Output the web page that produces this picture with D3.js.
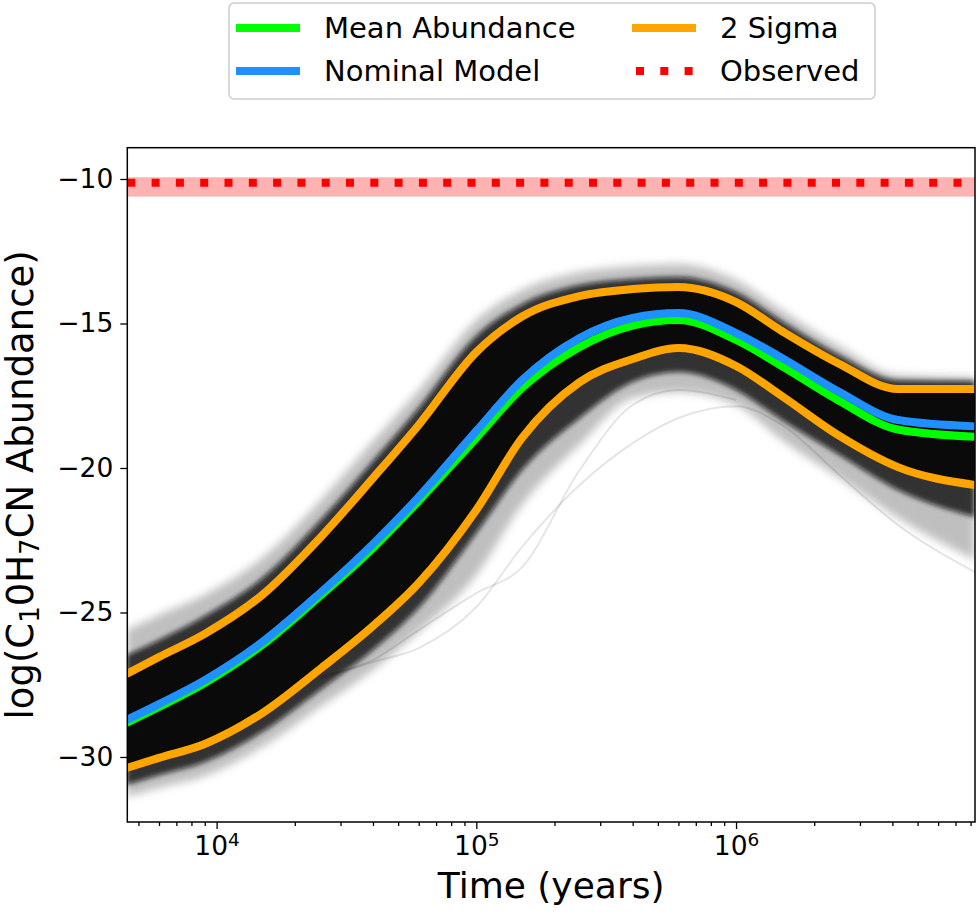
<!DOCTYPE html>
<html>
<head>
<meta charset="utf-8">
<script src="https://cdn.jsdelivr.net/npm/d3@7"></script>
<style>
  body { margin: 0; background: #fff; }
  svg { display: block; font-family: "DejaVu Sans", sans-serif; }
</style>
</head>
<body>
<svg id="chart" width="980" height="918"></svg>
<script>
// ***** data *****
const times = [4500, 6000, 9000, 15000, 25000, 40000, 60000, 1e5, 1.5e5, 2.5e5, 4e5, 6e5, 1e6, 1.5e6, 2.5e6, 4.2e6, 8.3e6];

const meanAbundance = [-28.82, -28.27, -27.44, -26.12, -24.43, -22.77, -21.14, -18.96, -17.23, -15.81, -15.07, -14.88, -15.57, -16.47, -17.68, -18.67, -18.92];
const nominalModel = [-28.72, -28.17, -27.34, -26.02, -24.33, -22.63, -21.00, -18.72, -16.96, -15.50, -14.81, -14.64, -15.33, -16.19, -17.37, -18.34, -18.56];
const sigmaUpper = [-27.13, -26.54, -25.74, -24.39, -22.42, -20.35, -18.51, -15.99, -14.76, -14.05, -13.81, -13.74, -14.26, -15.26, -16.40, -17.27, -17.27];
const sigmaLower = [-30.38, -30.03, -29.55, -28.48, -26.96, -25.47, -23.98, -21.45, -18.96, -17.03, -16.23, -15.85, -16.47, -17.51, -18.89, -19.97, -20.59];

// spread of the individual model runs (dense part and faint fringe)
const runsDenseTop = [-26.47, -25.95, -25.12, -23.81, -21.83, -19.76, -17.92, -15.43, -14.33, -13.67, -13.46, -13.39, -13.91, -14.91, -16.09, -16.96, -16.99];
const runsDenseBottom = [-30.97, -30.62, -30.17, -29.13, -27.68, -26.30, -24.84, -22.25, -20.07, -18.27, -17.02, -16.68, -17.30, -18.34, -19.55, -20.76, -21.70];
const runsFaintTop = [-25.61, -25.09, -24.39, -23.11, -21.14, -19.07, -17.30, -14.88, -13.84, -13.22, -13.01, -12.94, -13.49, -14.53, -15.78, -16.78, -16.85];
const runsFaintBottom = [-31.38, -31.07, -30.66, -29.65, -28.27, -26.99, -25.67, -23.70, -21.28, -19.20, -17.58, -17.37, -17.82, -19.03, -20.35, -21.73, -23.18];

// two stray runs that leave the band
const strayTimesA = [25000, 40000, 60000, 1e5, 1.5e5, 2.5e5, 4e5, 6e5, 1e6, 1.5e6, 2.5e6, 4.2e6, 8.3e6];
const strayRunA = [-27.30, -26.71, -26.23, -24.81, -22.73, -20.59, -19.14, -18.27, -17.86, -18.51, -20.24, -21.97, -23.60];
const strayTimesB = [25000, 40000, 60000, 1e5, 1.5e5, 2.5e5, 4e5, 6e5, 1e6];
const strayRunB = [-27.20, -26.64, -25.61, -24.33, -23.43, -20.07, -17.82, -17.30, -17.65];

const observedValue = -10.13;
const observedRange = [-10.61, -9.94];

const yTicks = [-10, -15, -20, -25, -30];
const xMajorTicks = [1e4, 1e5, 1e6];

const legendItems = [
  { label: "Mean Abundance", color: "#00ff00", dotted: false },
  { label: "Nominal Model", color: "#1e90ff", dotted: false },
  { label: "2 Sigma", color: "#ffa500", dotted: false },
  { label: "Observed", color: "#ff0000", dotted: true }
];

// ***** layout *****
const margin = { left: 127.3, right: 975, top: 147.7, bottom: 822 };
const svg = d3.select("#chart");

const x = d3.scaleLog().domain([4530, 8.32e6]).range([margin.left, margin.right]);
const y = d3.scaleLinear().domain([-32.25, -8.917]).range([margin.bottom, margin.top]);

const defs = svg.append("defs");
defs.append("clipPath").attr("id", "plotClip")
  .append("rect")
  .attr("x", margin.left).attr("y", margin.top)
  .attr("width", margin.right - margin.left)
  .attr("height", margin.bottom - margin.top);
// soft edges for the cloud of runs
defs.append("filter").attr("id", "softWide")
  .attr("x", "-5%").attr("y", "-5%").attr("width", "110%").attr("height", "110%")
  .append("feGaussianBlur").attr("stdDeviation", 4);
defs.append("filter").attr("id", "softNarrow")
  .attr("x", "-5%").attr("y", "-5%").attr("width", "110%").attr("height", "110%")
  .append("feGaussianBlur").attr("stdDeviation", 2.5);

const plot = svg.append("g").attr("clip-path", "url(#plotClip)");

function band(lo, hi, ts) {
  return d3.area()
    .x((d, i) => x(ts[i]))
    .y0((d, i) => y(lo[i]))
    .y1((d, i) => y(hi[i]))
    .curve(d3.curveMonotoneX)(ts);
}
function line(vals, ts) {
  return d3.line()
    .x((d, i) => x(ts[i]))
    .y(d => y(d))
    .curve(d3.curveMonotoneX)(vals);
}

// model runs: faint fringe, dense part, solid core
plot.append("path").attr("d", band(runsFaintBottom, runsFaintTop, times))
  .attr("fill", "rgba(0,0,0,0.25)").attr("filter", "url(#softWide)");
plot.append("path").attr("d", band(runsDenseBottom, runsDenseTop, times))
  .attr("fill", "rgba(10,10,10,0.8)").attr("filter", "url(#softNarrow)");
plot.append("path").attr("d", band(sigmaLower, sigmaUpper, times))
  .attr("fill", "#0a0a0a");

[[strayRunA, strayTimesA], [strayRunB, strayTimesB]].forEach(([run, ts]) => {
  plot.append("path").attr("d", line(run, ts))
    .attr("fill", "none").attr("stroke", "rgba(0,0,0,0.1)").attr("stroke-width", 2);
});

// summary curves
plot.append("path").attr("d", line(meanAbundance, times))
  .attr("fill", "none").attr("stroke", "#00ff00").attr("stroke-width", 8);
plot.append("path").attr("d", line(nominalModel, times))
  .attr("fill", "none").attr("stroke", "#1e90ff").attr("stroke-width", 8);
[sigmaUpper, sigmaLower].forEach(s => {
  plot.append("path").attr("d", line(s, times))
    .attr("fill", "none").attr("stroke", "#ffa500").attr("stroke-width", 8);
});

// observed value and its range
plot.append("rect")
  .attr("x", margin.left).attr("width", margin.right - margin.left)
  .attr("y", y(observedRange[1]))
  .attr("height", y(observedRange[0]) - y(observedRange[1]))
  .attr("fill", "rgba(255,0,0,0.3)");
plot.append("line")
  .attr("x1", margin.left).attr("x2", margin.right)
  .attr("y1", y(observedValue)).attr("y2", y(observedValue))
  .attr("stroke", "#ff0000").attr("stroke-width", 8)
  .attr("stroke-dasharray", "8,16.3");

// ***** axes *****
const yAxis = svg.append("g")
  .attr("transform", "translate(" + margin.left + ",0)")
  .call(d3.axisLeft(y).tickValues(yTicks).tickSize(7).tickPadding(7)
    .tickFormat(d => "\u2212" + Math.abs(d)));
yAxis.selectAll("text").attr("font-size", 26.5).attr("fill", "#000")
  .attr("font-family", "DejaVu Sans");

const minorTicks = [];
[1e3, 1e4, 1e5, 1e6].forEach(dec => {
  for (let k = 2; k <= 9; k++) {
    const v = dec * k;
    if (v > 4530 && v < 8.32e6) minorTicks.push(v);
  }
});

svg.append("g")
  .attr("transform", "translate(0," + margin.bottom + ")")
  .call(d3.axisBottom(x).tickValues(minorTicks).tickSize(4).tickFormat(""))
  .call(g => g.select(".domain").remove());

const xAxis = svg.append("g")
  .attr("transform", "translate(0," + margin.bottom + ")")
  .call(d3.axisBottom(x).tickValues(xMajorTicks).tickSize(7).tickFormat(""));
xAxis.selectAll(".tick").each(function(d) {
  const t = d3.select(this).select("text")
    .attr("font-size", 26.5).attr("fill", "#000").attr("font-family", "DejaVu Sans")
    .attr("y", 33).attr("dy", 0);
  t.append("tspan").text("10");
  t.append("tspan").attr("font-size", 18.5).attr("dy", -9).text(Math.round(Math.log10(d)));
});

svg.selectAll(".tick line").attr("stroke", "#000").attr("stroke-width", 1.3);

// frame
svg.append("rect")
  .attr("x", margin.left).attr("y", margin.top)
  .attr("width", margin.right - margin.left)
  .attr("height", margin.bottom - margin.top)
  .attr("fill", "none").attr("stroke", "#000").attr("stroke-width", 1.5);
svg.selectAll(".domain").remove();

// axis titles
svg.append("text")
  .attr("x", (margin.left + margin.right) / 2).attr("y", 898)
  .attr("text-anchor", "middle").attr("font-size", 36)
  .text("Time (years)");

const yTitle = svg.append("text")
  .attr("transform", "translate(33," + (margin.top + margin.bottom) / 2 + ") rotate(-90)")
  .attr("text-anchor", "middle").attr("font-size", 37);
yTitle.append("tspan").text("log(C");
yTitle.append("tspan").attr("font-size", 26).attr("dy", 6).text("1");
yTitle.append("tspan").attr("dy", -6).text("0H");
yTitle.append("tspan").attr("font-size", 26).attr("dy", 6).text("7");
yTitle.append("tspan").attr("dy", -6).text("CN Abundance)");

// ***** legend *****
const legend = svg.append("g");
legend.append("rect")
  .attr("x", 229).attr("y", 3).attr("width", 646).attr("height", 96).attr("rx", 5)
  .attr("fill", "rgba(255,255,255,0.8)").attr("stroke", "#cccccc").attr("stroke-width", 1.5);

const cols = [236, 632];
const rows = [28, 71];
legendItems.forEach((item, i) => {
  const cx = cols[Math.floor(i / 2)];
  const cy = rows[i % 2];
  const h = legend.append("line")
    .attr("x1", cx).attr("x2", cx + 64)
    .attr("y1", cy).attr("y2", cy)
    .attr("stroke", item.color).attr("stroke-width", 8);
  if (item.dotted) h.attr("x1", cx + 4).attr("stroke-dasharray", "8,16.3");
  legend.append("text")
    .attr("x", cx + 88).attr("y", cy + 10)
    .attr("font-size", 29)
    .text(item.label);
});
</script>
</body>
</html>
